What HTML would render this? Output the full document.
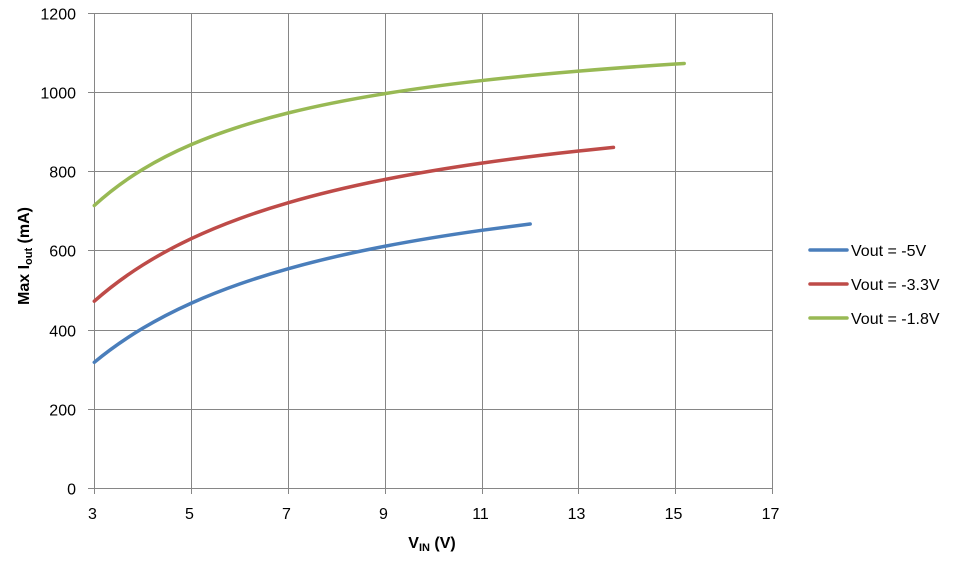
<!DOCTYPE html>
<html>
<head>
<meta charset="utf-8">
<style>
html,body{margin:0;padding:0;background:#fff;}
svg{display:block;}
text{font-family:"Liberation Sans",Arial,sans-serif;fill:#000;}
</style>
</head>
<body>
<svg width="953" height="562" viewBox="0 0 953 562" xmlns="http://www.w3.org/2000/svg">
<rect width="953" height="562" fill="#fff"/>
<g stroke="#868686" stroke-width="1" fill="none" shape-rendering="crispEdges">
  <line x1="88" y1="13.5" x2="773" y2="13.5"/>
  <line x1="88" y1="92.5" x2="773" y2="92.5"/>
  <line x1="88" y1="171.5" x2="773" y2="171.5"/>
  <line x1="88" y1="250.5" x2="773" y2="250.5"/>
  <line x1="88" y1="330.5" x2="773" y2="330.5"/>
  <line x1="88" y1="409.5" x2="773" y2="409.5"/>
  <line x1="88" y1="488.5" x2="773" y2="488.5"/>
  <line x1="94.5" y1="13" x2="94.5" y2="494"/>
  <line x1="191.5" y1="13" x2="191.5" y2="494"/>
  <line x1="288.5" y1="13" x2="288.5" y2="494"/>
  <line x1="385.5" y1="13" x2="385.5" y2="494"/>
  <line x1="482.5" y1="13" x2="482.5" y2="494"/>
  <line x1="578.5" y1="13" x2="578.5" y2="494"/>
  <line x1="675.5" y1="13" x2="675.5" y2="494"/>
  <line x1="772.5" y1="13" x2="772.5" y2="494"/>
</g>
<g font-size="16" text-anchor="end">
  <text x="76" y="19.5">1200</text>
  <text x="76" y="98.5">1000</text>
  <text x="76" y="177.5">800</text>
  <text x="76" y="256.5">600</text>
  <text x="76" y="336.5">400</text>
  <text x="76" y="415.5">200</text>
  <text x="76" y="494.5">0</text>
</g>
<g font-size="16" text-anchor="middle">
  <text x="92.5" y="519">3</text>
  <text x="189.5" y="519">5</text>
  <text x="286.5" y="519">7</text>
  <text x="383.5" y="519">9</text>
  <text x="480.5" y="519">11</text>
  <text x="576.5" y="519">13</text>
  <text x="673.5" y="519">15</text>
  <text x="770.5" y="519">17</text>
</g>
<text x="432" y="548" font-size="16" font-weight="bold" text-anchor="middle">V<tspan font-size="11" dy="3">IN</tspan><tspan dy="-3"> (V)</tspan></text>
<text transform="translate(29,256) rotate(-90)" font-size="16" font-weight="bold" text-anchor="middle">Max I<tspan font-size="11" dy="3">out</tspan><tspan dy="-3"> (mA)</tspan></text>
<g fill="none" stroke-width="3.5" stroke-linecap="round" stroke-linejoin="round">
  <path stroke="#4A7EBB" d="M94.3,362.29 C110.44,348.93 126.59,337.91 142.73,328.29 C158.87,318.67 175.02,310.48 191.16,303.23 C207.3,295.98 223.45,289.67 239.59,284.01 C255.73,278.35 271.88,273.34 288.02,268.8 C320.31,259.71 352.59,252.46 384.88,246.24 C417.17,240.02 449.45,234.85 481.74,230.32 C497.88,228.06 514.03,225.95 530.17,223.99"/>
  <path stroke="#BE4B48" d="M94.3,301.2 C110.44,286.93 126.59,275.24 142.73,265.08 C158.87,254.92 175.02,246.31 191.16,238.71 C207.3,231.11 223.45,224.52 239.59,218.62 C255.73,212.72 271.88,207.51 288.02,202.8 C320.31,193.37 352.59,185.9 384.88,179.49 C417.17,173.08 449.45,167.77 481.74,163.13 C514.03,158.49 546.31,154.53 578.6,151.02 C590.22,149.76 601.85,148.54 613.47,147.39"/>
  <path stroke="#98B954" d="M94.3,205.51 C110.44,190.67 126.59,179.14 142.73,169.35 C158.87,159.56 175.02,151.56 191.16,144.62 C207.3,137.68 223.45,131.82 239.59,126.65 C255.73,121.48 271.88,117 288.02,113 C320.31,104.99 352.59,98.83 384.88,93.63 C417.17,88.43 449.45,84.21 481.74,80.56 C514.03,76.91 546.31,73.83 578.6,71.13 C610.89,68.43 643.17,66.09 675.46,64.01 C678.37,63.82 681.27,63.64 684.18,63.46"/>
</g>
<g stroke-width="3.5" stroke-linecap="round">
  <line x1="810" y1="250" x2="847" y2="250" stroke="#4A7EBB"/>
  <line x1="810" y1="284" x2="847" y2="284" stroke="#BE4B48"/>
  <line x1="810" y1="318" x2="847" y2="318" stroke="#98B954"/>
</g>
<g font-size="16">
  <text x="851" y="256">Vout = -5V</text>
  <text x="851" y="290">Vout = -3.3V</text>
  <text x="851" y="324">Vout = -1.8V</text>
</g>
</svg>
</body>
</html>
